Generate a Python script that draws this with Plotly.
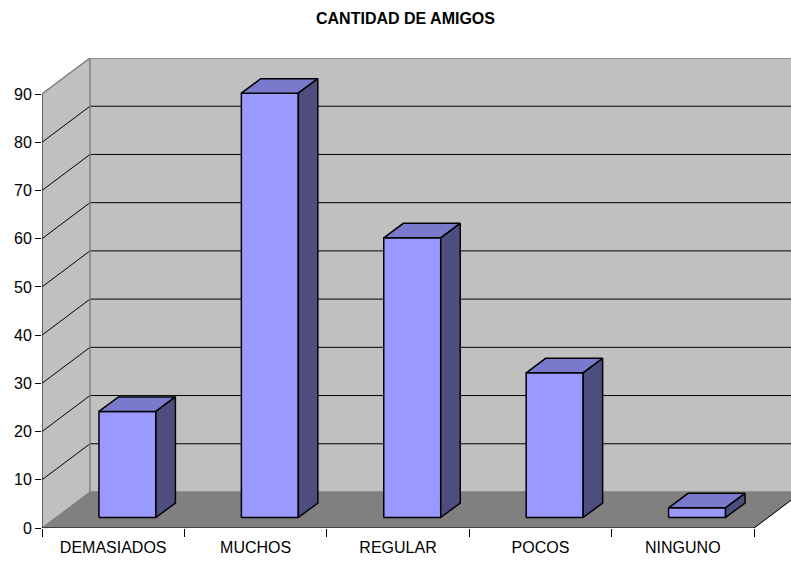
import plotly.graph_objects as go

# Data
categories = ["DEMASIADOS", "MUCHOS", "REGULAR", "POCOS", "NINGUNO"]
values = [22, 88, 58, 30, 2]
y_ticks = [0, 10, 20, 30, 40, 50, 60, 70, 80, 90]
title = "CANTIDAD DE AMIGOS"

# Pixel geometry of the pseudo-3D projection
W, H = 791, 563
L, T, B = 41.5, 58, 35
CAT_PX = 142.5
UNIT_PX = 4.822
WALL_DX, WALL_DY = 48, 36
BAR_DX, BAR_DY = 19.5, 14.5
BAR_W = 57
BAR_LEFT = 57
BAR_LIFT = 10.5

ux = 1 / CAT_PX
uy = 1 / UNIT_PX
x0 = -0.5
x_end = x0 + (W - L) * ux
y_end = (H - B - T) * uy
xn = x0 + len(categories)

WALL = "#C0C0C0"
FLOOR = "#808080"
EDGE = "#808080"
FRONT = "#9999FF"
TOP = "#7A7ACC"
SIDE = "#4D4D80"
INK = "#000000"

fig = go.Figure()


def poly(xs, ys, fill=None, line=INK, width=1, clip=True):
    fig.add_trace(go.Scatter(
        x=xs, y=ys, mode="lines", hoverinfo="skip", showlegend=False,
        fill="toself" if fill else None, fillcolor=fill,
        line=dict(color=line, width=width), cliponaxis=clip))


wx, wy = WALL_DX * ux, WALL_DY * uy
# back wall, left wall, floor
poly([x0 + wx, xn + wx + 1, xn + wx + 1, x0 + wx, x0 + wx],
     [wy, wy, wy + 90, wy + 90, wy], fill=WALL, line=WALL)
poly([x0, x0 + wx, x0 + wx, x0, x0], [0, wy, wy + 90, 90, 0], fill=WALL, line=WALL)
poly([x0, x0 + wx, xn + wx, xn, x0], [0, wy, wy, 0, 0], fill=FLOOR, line=FLOOR)

# gridlines
for v in y_ticks:
    colour = EDGE if v in (0, 90) else INK
    poly([x0, x0 + wx, xn + wx + 1], [v, v + wy, v + wy], line=colour, width=1.5 if v == 90 else 1)
poly([x0 + wx, x0 + wx], [wy, wy + 90], line=EDGE, width=1.5)

# floor's right edge and axes
poly([xn, xn + wx], [0, wy], line=INK)
poly([x0, xn], [0, 0], line=INK, clip=False)
poly([x0, x0], [0, 90], line=INK, clip=False)

# bars
bdx, bdy = BAR_DX * ux, BAR_DY * uy
for i, v in enumerate(values):
    a = x0 + i + BAR_LEFT * ux
    b = a + BAR_W * ux
    lo = BAR_LIFT * uy
    hi = lo + v
    poly([a, b, b, a, a], [lo, lo, hi, hi, lo], fill=FRONT, width=1.5)
    poly([a, b, b + bdx, a + bdx, a], [hi, hi, hi + bdy, hi + bdy, hi], fill=TOP, width=1.5)
    poly([b, b + bdx, b + bdx, b, b], [lo, lo + bdy, hi + bdy, hi, lo], fill=SIDE, width=1.5)

FONT = "Liberation Sans, Arial, sans-serif"
fig.update_layout(
    width=W, height=H, autosize=False,
    margin=dict(l=L, r=0, t=T, b=B, pad=0),
    paper_bgcolor="white", plot_bgcolor="white",
    showlegend=False, hovermode=False,
    font=dict(family=FONT, size=16, color=INK),
    xaxis=dict(
        range=[x0, x_end], tickmode="array",
        tickvals=list(range(len(categories))), ticktext=categories,
        ticks="", showgrid=False, zeroline=False, showline=False,
        ticklabelstandoff=8,
        tickfont=dict(size=16),
        minor=dict(tick0=x0, dtick=1, ticks="outside", ticklen=8, tickcolor=INK,
                   tickwidth=1, showgrid=False),
    ),
    yaxis=dict(
        range=[0, y_end], tickmode="array", tickvals=y_ticks,
        ticks="outside", ticklen=6, tickcolor=INK, tickwidth=1,
        showgrid=False, zeroline=False, showline=False,
        tickfont=dict(size=16), ticklabelstandoff=0,
    ),
    annotations=[dict(
        text="<b>%s</b>" % title, xref="paper", yref="paper",
        x=(405 - L) / (W - L), y=1 + (T - 19) / (H - T - B),
        xanchor="center", yanchor="middle", showarrow=False,
        font=dict(size=16, family=FONT, color=INK))],
)

fig.write_html("out.html", config={"displayModeBar": False},
               post_script="document.body.style.margin='0';document.body.style.overflow='hidden';")
